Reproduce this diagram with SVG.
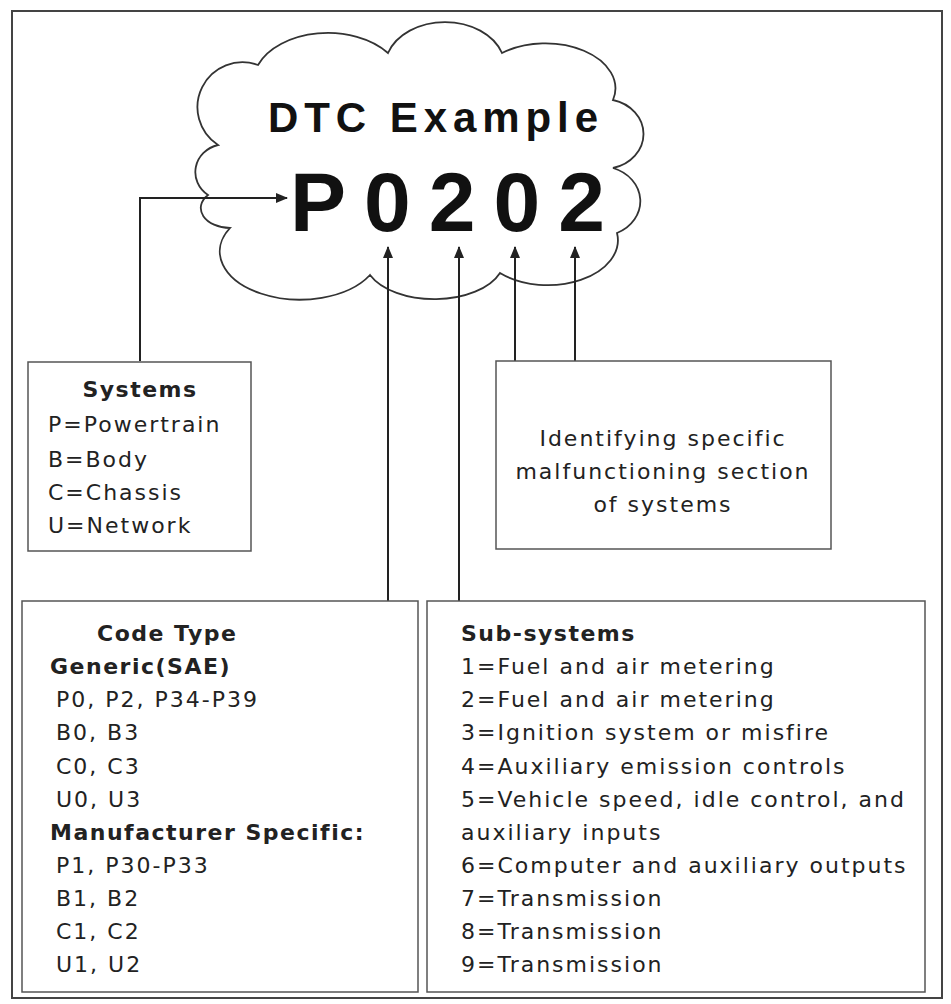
<svg xmlns="http://www.w3.org/2000/svg" width="951" height="1004" viewBox="0 0 951 1004">
<style>
.b{fill:#fff;stroke:#555;stroke-width:1.5}
.t{font-family:"DejaVu Sans","Liberation Sans",Arial,sans-serif;font-size:22px;fill:#222;letter-spacing:2px}
.h{font-weight:bold;letter-spacing:1.5px}
.c{stroke:#222;stroke-width:2;fill:none;marker-end:url(#a)}
</style>
<defs><marker id="a" markerWidth="12" markerHeight="12" refX="11" refY="6" orient="auto" markerUnits="userSpaceOnUse"><path d="M0,1 L12,6 L0,11 Z" fill="#222"/></marker></defs>
<rect x="0" y="0" width="951" height="1004" fill="#fff"/>
<rect x="12" y="11" width="930" height="987" fill="none" stroke="#444" stroke-width="2"/>
<g id="cloud">
<path d="M218,145 A45,45 0 0 1 258,65 A75,50 0 0 1 388,53 A60,45 0 0 1 502,53 A70,45 0 0 1 613,100 A40,35 0 0 1 613,168 A40,35 0 0 1 617,233 A70,45 0 0 1 500,273 A70,40 0 0 1 370,275 A75,45 0 0 1 230,228 A30,20 0 0 1 208,195 A30,28 0 0 1 218,145 Z" fill="#fff" stroke="#333" stroke-width="1.8"/>
<text x="268" y="132" textLength="330" lengthAdjust="spacing" font-family="Liberation Sans,Arial,sans-serif" font-weight="bold" font-size="42" fill="#111">DTC Example</text>
<text x="290" y="231" font-family="Liberation Sans,Arial,sans-serif" font-weight="bold" font-size="84" letter-spacing="18" fill="#111">P0202</text>
</g>
<g id="connectors">
<path class="c" d="M140,361 V198 H287"/>
<path class="c" d="M388,601 V247"/>
<path class="c" d="M459,601 V247"/>
<path class="c" d="M515,361 V247"/>
<path class="c" d="M575,361 V247"/>
</g>
<g id="systems">
<rect class="b" x="28" y="362" width="223" height="189"/>
<text class="t h" x="140" y="397" text-anchor="middle">Systems</text>
<text class="t" x="48" y="432">P=Powertrain</text>
<text class="t" x="48" y="467">B=Body</text>
<text class="t" x="48" y="500">C=Chassis</text>
<text class="t" x="48" y="533">U=Network</text>
</g>
<g id="identify">
<rect class="b" x="496" y="361" width="335" height="188"/>
<text class="t" x="663" y="446" text-anchor="middle">Identifying specific</text>
<text class="t" x="663" y="479" text-anchor="middle">malfunctioning section</text>
<text class="t" x="663" y="512" text-anchor="middle">of systems</text>
</g>
<g id="codetype">
<rect class="b" x="22" y="601" width="396" height="391"/>
<text class="t h" x="97" y="641">Code Type</text>
<text class="t h" x="50" y="674">Generic(SAE)</text>
<text class="t" x="56" y="707">P0, P2, P34-P39</text>
<text class="t" x="56" y="740">B0, B3</text>
<text class="t" x="56" y="774">C0, C3</text>
<text class="t" x="56" y="807">U0, U3</text>
<text class="t h" x="50" y="840">Manufacturer Specific:</text>
<text class="t" x="56" y="873">P1, P30-P33</text>
<text class="t" x="56" y="906">B1, B2</text>
<text class="t" x="56" y="939">C1, C2</text>
<text class="t" x="56" y="972">U1, U2</text>
</g>
<g id="subsystems">
<rect class="b" x="427" y="601" width="498" height="391"/>
<text class="t h" x="461" y="641">Sub-systems</text>
<text class="t" x="461" y="674">1=Fuel and air metering</text>
<text class="t" x="461" y="707">2=Fuel and air metering</text>
<text class="t" x="461" y="740">3=Ignition system or misfire</text>
<text class="t" x="461" y="774">4=Auxiliary emission controls</text>
<text class="t" x="461" y="807">5=Vehicle speed, idle control, and</text>
<text class="t" x="461" y="840">auxiliary inputs</text>
<text class="t" x="461" y="873">6=Computer and auxiliary outputs</text>
<text class="t" x="461" y="906">7=Transmission</text>
<text class="t" x="461" y="939">8=Transmission</text>
<text class="t" x="461" y="972">9=Transmission</text>
</g>
</svg>
